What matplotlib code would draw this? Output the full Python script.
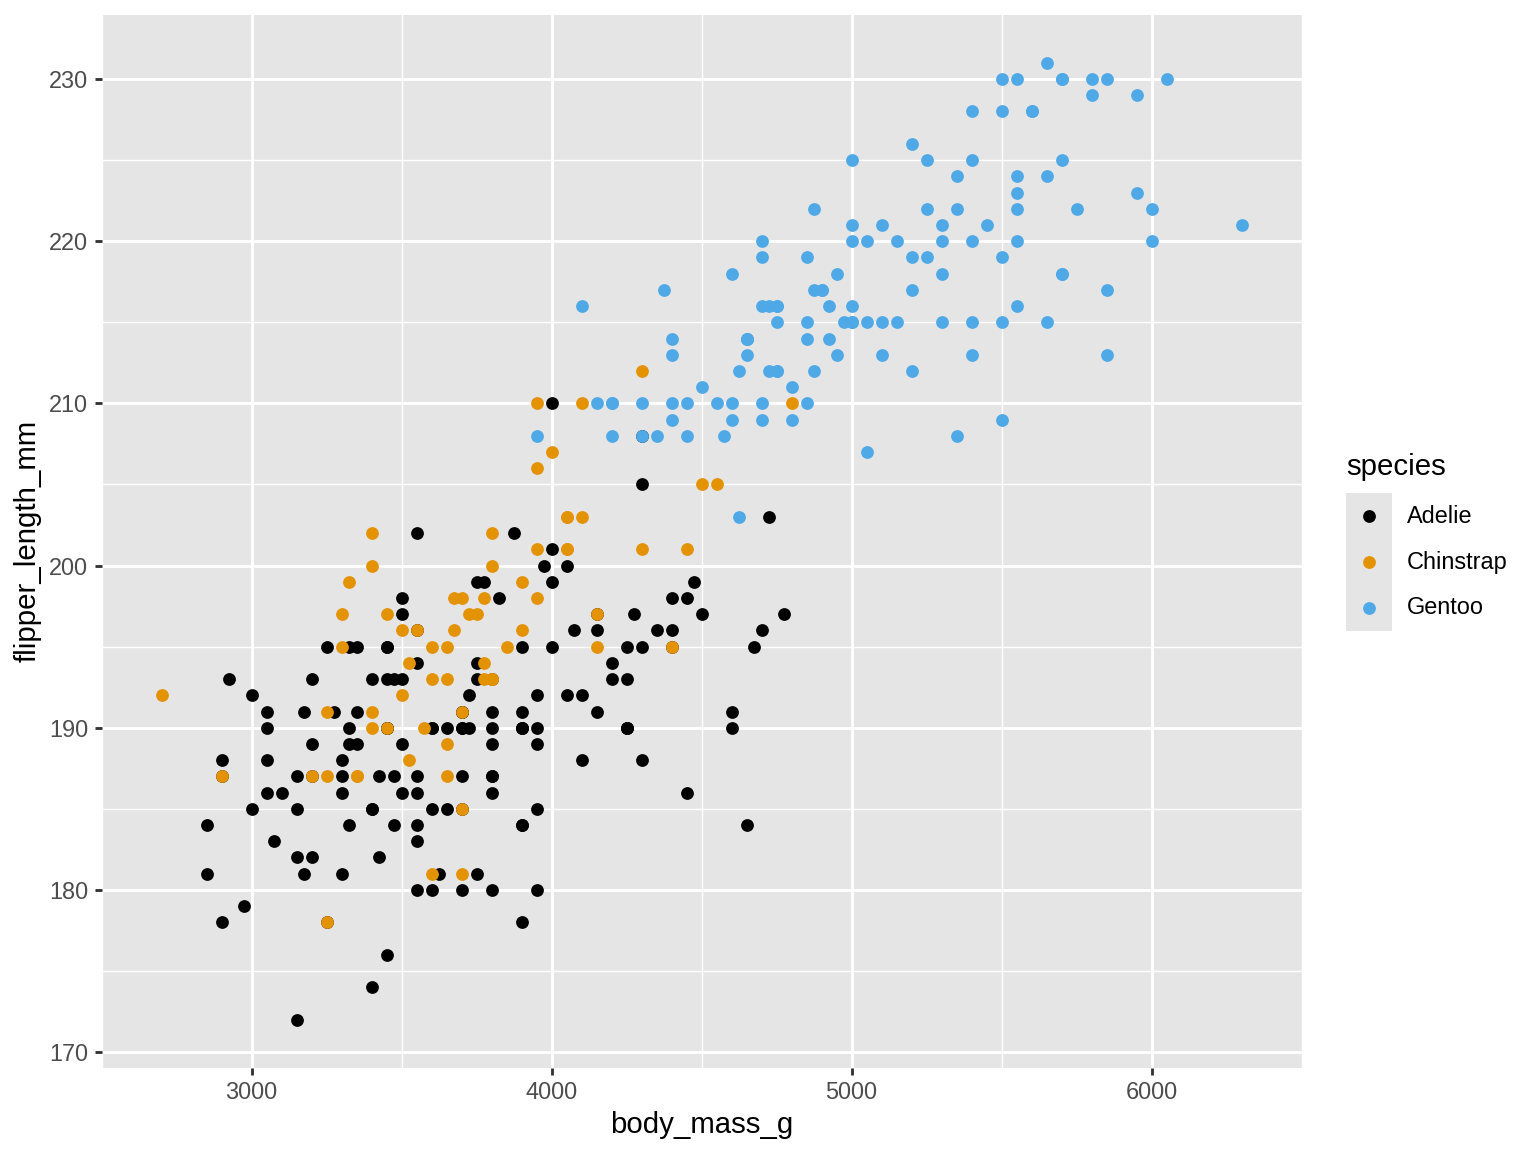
import matplotlib
matplotlib.use('Agg')
import matplotlib.pyplot as plt
from matplotlib.lines import Line2D
from matplotlib.patches import Rectangle
import numpy as np

plt.rcParams['font.family'] = ['Liberation Sans', 'DejaVu Sans']

species = ['Adelie', 'Chinstrap', 'Gentoo']
colors = {'Adelie': '#000000', 'Chinstrap': '#E39200', 'Gentoo': '#4FA9E6'}

# Adelie
adelie_mass = [3750, 3800, 3250, 3450, 3650, 3625, 4675, 3475, 4250, 3300, 3700, 3200, 3800, 4400, 3700,
               3450, 4500, 3325, 4200, 3400, 3600, 3800, 3950, 3800, 3800, 3550, 3200, 3150, 3950, 3250,
               3900, 3300, 3900, 3325, 4150, 3950, 3550, 3300, 4650, 3150, 3900, 3100, 4400, 3000, 4600,
               3425, 2975, 3450, 4150, 3500, 4300, 3450, 4050, 2900, 3700, 3550, 3800, 2850, 3750, 3150,
               4400, 3600, 4050, 2850, 3950, 3350, 4100, 3050, 4450, 3600, 3900, 3550, 4150, 3700, 4250,
               3700, 3900, 3550, 4000, 3200, 4700, 3800, 4200, 3350, 3550, 3800, 3500, 3950, 3600, 3550,
               4300, 3400, 4450, 3300, 4300, 3700, 4350, 2900, 4100, 3725, 4725, 3075, 4250, 2925, 3550,
               3750, 3900, 3175, 4775, 3825, 4600, 3200, 4275, 3900, 4075, 2900, 3775, 3350, 3325, 3150,
               3500, 3450, 3875, 3050, 4000, 3275, 4300, 3050, 4000, 3325, 3500, 3500, 4475, 3425, 3900,
               3175, 3975, 3400, 4250, 3400, 3475, 3050, 3725, 3000, 3650, 4250, 3475, 3450, 3750, 3700,
               4000]
adelie_flipper = [181, 186, 195, 193, 190, 181, 195, 193, 190, 186, 180, 182, 191, 198, 185,
                  195, 197, 184, 194, 174, 180, 189, 185, 180, 187, 183, 187, 172, 180, 178,
                  178, 188, 184, 195, 196, 190, 180, 181, 184, 182, 195, 186, 196, 185, 190,
                  182, 179, 190, 191, 186, 188, 190, 200, 187, 191, 186, 193, 181, 194, 185,
                  195, 185, 192, 184, 192, 195, 188, 190, 198, 190, 190, 196, 197, 190, 195,
                  191, 184, 187, 195, 189, 196, 187, 193, 191, 194, 190, 189, 189, 190, 202,
                  205, 185, 186, 187, 208, 190, 196, 178, 192, 192, 203, 183, 190, 193, 184,
                  199, 190, 181, 197, 198, 191, 193, 197, 191, 196, 188, 199, 189, 189, 187,
                  198, 176, 202, 186, 199, 191, 195, 191, 210, 190, 197, 193, 199, 187, 190,
                  191, 200, 185, 193, 193, 187, 188, 190, 192, 185, 190, 184, 195, 193, 187,
                  201]

# Gentoo
gentoo_mass = [4500, 5700, 4450, 5700, 5400, 4550, 4800, 5200, 4400, 5150, 4650, 5550, 4650, 5850, 4200,
               5850, 4150, 6300, 4800, 5350, 5700, 5000, 4400, 5050, 5000, 5100, 4100, 5650, 4600, 5550,
               5250, 4700, 5050, 6050, 5150, 5400, 4950, 5250, 4350, 5350, 3950, 5700, 4300, 4750, 5550,
               4900, 4200, 5400, 5100, 5300, 4850, 5300, 4400, 5000, 4900, 5050, 4300, 5000, 4450, 5550,
               4200, 5300, 4400, 5650, 4700, 5700, 4650, 5800, 4700, 5550, 4750, 5000, 5100, 5200, 4700,
               5800, 4600, 6000, 4750, 5950, 4625, 5450, 4725, 5350, 4750, 5600, 4600, 5300, 4875, 5550,
               4950, 5400, 4750, 5650, 4850, 5200, 4925, 4875, 4625, 5250, 4850, 5600, 4975, 5500, 4725,
               5500, 4700, 5500, 4575, 5500, 5000, 5950, 4650, 5500, 4375, 5850, 4875, 6000, 4925, 4850,
               5750, 5200, 5400]
gentoo_flipper = [211, 230, 210, 218, 215, 210, 211, 219, 209, 215, 214, 216, 214, 213, 210,
                  217, 210, 221, 209, 222, 218, 215, 213, 215, 215, 215, 216, 215, 210, 220,
                  222, 209, 207, 230, 220, 220, 213, 219, 208, 208, 208, 225, 210, 216, 222,
                  217, 210, 225, 213, 215, 210, 220, 210, 225, 217, 220, 208, 220, 208, 224,
                  208, 221, 214, 231, 219, 230, 214, 229, 220, 223, 216, 221, 221, 217, 216,
                  230, 209, 220, 215, 223, 212, 221, 212, 224, 212, 228, 218, 218, 212, 230,
                  218, 228, 212, 224, 214, 226, 216, 222, 203, 225, 219, 228, 215, 228, 216,
                  215, 210, 219, 208, 209, 216, 229, 213, 230, 217, 230, 217, 222, 214, 215,
                  222, 212, 213]

# Chinstrap
chinstrap_mass = [3500, 3900, 3650, 3525, 3725, 3950, 3250, 3750, 4150, 3700, 3800, 3775, 3700, 4050, 3575,
                  4050, 3300, 3700, 3450, 4400, 3600, 3400, 2900, 3800, 3300, 4150, 3400, 3800, 3700, 4550,
                  3200, 4300, 3350, 4100, 3600, 3900, 3850, 4800, 2700, 4500, 3950, 3650, 3550, 3500, 3675,
                  4450, 3400, 4300, 3250, 3675, 3325, 3950, 3600, 4050, 3350, 3450, 3250, 4050, 3800, 3525,
                  3950, 3650, 3650, 4000, 3400, 3775, 4100, 3775]
chinstrap_flipper = [192, 196, 193, 188, 197, 198, 178, 197, 195, 198, 193, 194, 185, 201, 190,
                     201, 197, 181, 190, 195, 181, 191, 187, 193, 195, 197, 200, 200, 191, 205,
                     187, 201, 187, 203, 195, 199, 195, 210, 192, 205, 210, 187, 196, 196, 196,
                     201, 190, 212, 187, 198, 199, 201, 193, 203, 187, 197, 191, 203, 202, 194,
                     206, 189, 195, 207, 202, 193, 210, 198]

mass = {'Adelie': adelie_mass, 'Gentoo': gentoo_mass, 'Chinstrap': chinstrap_mass}
flipper = {'Adelie': adelie_flipper, 'Gentoo': gentoo_flipper, 'Chinstrap': chinstrap_flipper}
draw_order = ['Adelie', 'Gentoo', 'Chinstrap']  # row order of the data

W, H = 1536, 1152
fig = plt.figure(figsize=(8, 6), dpi=192)
ax = fig.add_axes([101.5 / W, (H - 1067.5) / H, (1301.5 - 101.5) / W, (1067.5 - 15) / H])
ax.set_facecolor('#E5E5E5')
for s in ax.spines.values():
    s.set_visible(False)

for sp in draw_order:
    ax.scatter(mass[sp], flipper[sp], s=23, color=colors[sp], linewidths=0, zorder=3)

xmin, xmax = 2700, 6300
ymin, ymax = 172, 231
dx, dy = (xmax - xmin) * 0.05, (ymax - ymin) * 0.05
ax.set_xlim(xmin - dx, xmax + dx)
ax.set_ylim(ymin - dy, ymax + dy)

ax.set_xticks([3000, 4000, 5000, 6000])
ax.set_xticks([2500, 3500, 4500, 5500, 6500], minor=True)
ax.set_yticks([170, 180, 190, 200, 210, 220, 230])
ax.set_yticks([175, 185, 195, 205, 215, 225], minor=True)
ax.grid(which='major', color='white', linewidth=1.07, zorder=1)
ax.grid(which='minor', color='white', linewidth=0.53, zorder=1)
ax.set_axisbelow(True)
ax.tick_params(which='major', length=2.75, width=1.07, color='#333333', labelcolor='#4D4D4D',
               labelsize=8.8, pad=2.2)
ax.tick_params(which='minor', length=0)

ax.set_xlabel('body_mass_g', fontsize=11, color='black', labelpad=2.75)
ax.set_ylabel('flipper_length_mm', fontsize=11, color='black', labelpad=2.75)

# legend
fig.text(1346 / W, 1 - 467 / H, 'species', fontsize=11, ha='left', va='center')
fig.patches.append(Rectangle((1346 / W, 1 - 631 / H), 46 / W, 138 / H,
                             transform=fig.transFigure, facecolor='#E5E5E5', edgecolor='none'))
for i, sp in enumerate(species):
    yk = 1 - (516 + 46 * i) / H
    fig.add_artist(Line2D([1369 / W], [yk], marker='o', markersize=4.8, color=colors[sp],
                          markeredgewidth=0, linestyle='none', transform=fig.transFigure))
    fig.text(1407 / W, yk, sp, fontsize=8.8, ha='left', va='center')

fig.savefig('out.png', dpi=192)
